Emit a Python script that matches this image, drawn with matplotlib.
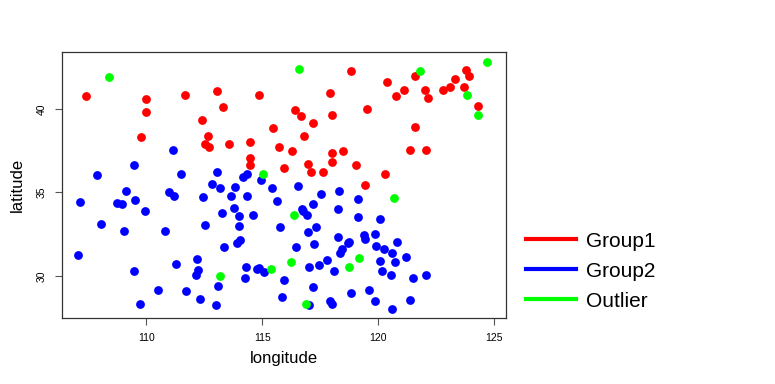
import numpy as np
import matplotlib.pyplot as plt
from matplotlib.lines import Line2D

plt.rcParams['font.family'] = ['Liberation Sans', 'DejaVu Sans']

# group 1 (red)
g1_lon = [107.39, 110.0, 110.0, 111.65, 113.06, 113.29, 114.85, 112.41, 112.68, 109.76,
          112.52, 112.71, 113.55, 114.47, 115.46, 115.70, 114.47, 114.47, 115.94, 118.83,
          121.60, 123.79, 123.92, 123.33, 123.11, 122.80, 123.69, 122.03, 122.14, 121.11,
          120.78, 120.38, 117.90, 124.32, 116.43, 116.68, 117.99, 119.52, 117.17, 121.57,
          116.80, 116.27, 118.00, 118.46, 121.35, 122.04, 116.97, 117.10, 118.02, 117.63,
          119.06, 120.29, 119.42]
g1_lat = [40.77, 40.59, 39.83, 40.83, 41.05, 40.13, 40.83, 39.33, 38.39, 38.31,
          37.87, 37.69, 37.87, 38.03, 38.87, 37.73, 37.07, 36.62, 36.46, 42.28,
          41.98, 42.34, 41.96, 41.80, 41.29, 41.13, 41.31, 41.13, 40.65, 41.14,
          40.77, 41.60, 40.96, 40.15, 39.93, 39.55, 39.63, 39.97, 39.13, 38.93,
          38.35, 37.46, 37.37, 37.47, 37.53, 37.51, 36.68, 36.20, 36.80, 36.22,
          36.63, 36.10, 35.44]

# group 2 (blue)
g2_lon = [111.13, 109.47, 107.88, 111.49, 113.06, 114.15, 114.32, 114.95, 112.82, 113.19,
          113.84, 115.41, 109.11, 107.15, 108.72, 108.95, 109.50, 110.97, 111.19, 112.43,
          113.63, 114.32, 115.63, 109.96, 113.28, 113.79, 114.01, 114.61, 108.05, 109.02,
          110.79, 112.52, 114.01, 115.78, 113.89, 114.06, 113.33, 107.05, 112.19, 111.30,
          109.47, 112.22, 112.13, 114.28, 114.25, 114.79, 114.88, 115.07, 115.94, 110.49,
          111.69, 113.08, 112.32, 109.71, 112.99, 115.85, 116.55, 117.54, 118.32, 119.12,
          117.17, 116.73, 116.76, 116.94, 118.27, 119.12, 120.09, 117.32, 116.96, 118.27,
          119.38, 119.41, 119.86, 118.70, 118.75, 117.24, 116.47, 119.91, 120.25, 120.81,
          120.58, 118.45, 118.35, 121.21, 120.06, 120.72, 117.00, 117.44, 117.79, 118.10,
          120.15, 120.54, 121.51, 122.04, 117.19, 118.83, 119.59, 117.00, 117.93, 118.00,
          119.88, 121.38, 120.61]
g2_lat = [37.51, 36.62, 36.05, 36.11, 36.20, 35.90, 36.11, 35.74, 35.51, 35.26,
          35.32, 35.26, 35.10, 34.40, 34.38, 34.28, 34.52, 35.04, 34.76, 34.72,
          34.78, 34.80, 34.46, 33.88, 33.76, 34.04, 33.58, 33.64, 33.08, 32.70,
          32.66, 33.02, 32.98, 32.90, 31.95, 32.13, 31.71, 31.23, 31.02, 30.72,
          30.29, 30.33, 30.03, 30.53, 29.89, 30.43, 30.45, 30.23, 29.73, 29.15,
          29.07, 29.39, 28.61, 28.31, 28.23, 28.71, 35.40, 34.88, 35.06, 34.60,
          34.28, 34.00, 33.88, 33.66, 33.98, 33.52, 33.38, 32.94, 32.64, 32.34,
          32.44, 32.22, 32.50, 31.95, 32.04, 31.89, 31.74, 31.80, 31.60, 32.02,
          31.35, 31.59, 31.35, 31.14, 30.89, 30.81, 30.53, 30.66, 30.95, 30.31,
          30.29, 30.03, 29.89, 30.05, 29.33, 28.99, 29.15, 28.23, 28.49, 28.31,
          28.47, 28.57, 28.03]

# outliers (green)
out_lon = [108.37, 115.05, 116.59, 121.78, 124.70, 123.84, 124.32, 113.18, 115.37, 120.67,
           116.36, 119.15, 116.24, 118.72, 116.87]
out_lat = [41.89, 36.08, 42.38, 42.26, 42.78, 40.84, 39.63, 29.99, 30.39, 34.68,
           33.64, 31.08, 30.83, 30.54, 28.29]

xticks = [110, 115, 120, 125]
yticks = [30, 35, 40]

fig = plt.figure(figsize=(7.75, 3.84), dpi=100)
ax = fig.add_axes([0.0796, 0.1727, 0.573, 0.6927])

ax.scatter(g1_lon, g1_lat, s=40, color='#ff0000', linewidths=0)
ax.scatter(g2_lon, g2_lat, s=40, color='#0000ff', linewidths=0)
ax.scatter(out_lon, out_lat, s=40, color='#00ff00', linewidths=0)

ax.set_xlim(106.35, 125.5)
ax.set_ylim(27.49, 43.42)
ax.set_xticks(xticks)
ax.set_yticks(yticks)
ax.set_yticklabels([str(v) for v in yticks], rotation=90, va='center')
ax.tick_params(direction='out', length=5, width=0.8, color='#555555',
               labelsize=7.5, pad=6)
for s in ax.spines.values():
    s.set_color('#333333')
    s.set_linewidth(0.9)

ax.set_xlabel('longitude', fontsize=12, labelpad=6)
ax.set_ylabel('latitude', fontsize=12, labelpad=8)

handles = [Line2D([0], [0], color='#ff0000', lw=3),
           Line2D([0], [0], color='#0000ff', lw=3),
           Line2D([0], [0], color='#00ff00', lw=3)]
fig.legend(handles, ['Group1', 'Group2', 'Outlier'], loc='upper left',
           bbox_to_anchor=(0.6655, 0.424), frameon=False, fontsize=15,
           handlelength=2.4, handletextpad=0.48, labelspacing=0.53, borderpad=0)

fig.savefig('out.png', dpi=100)
